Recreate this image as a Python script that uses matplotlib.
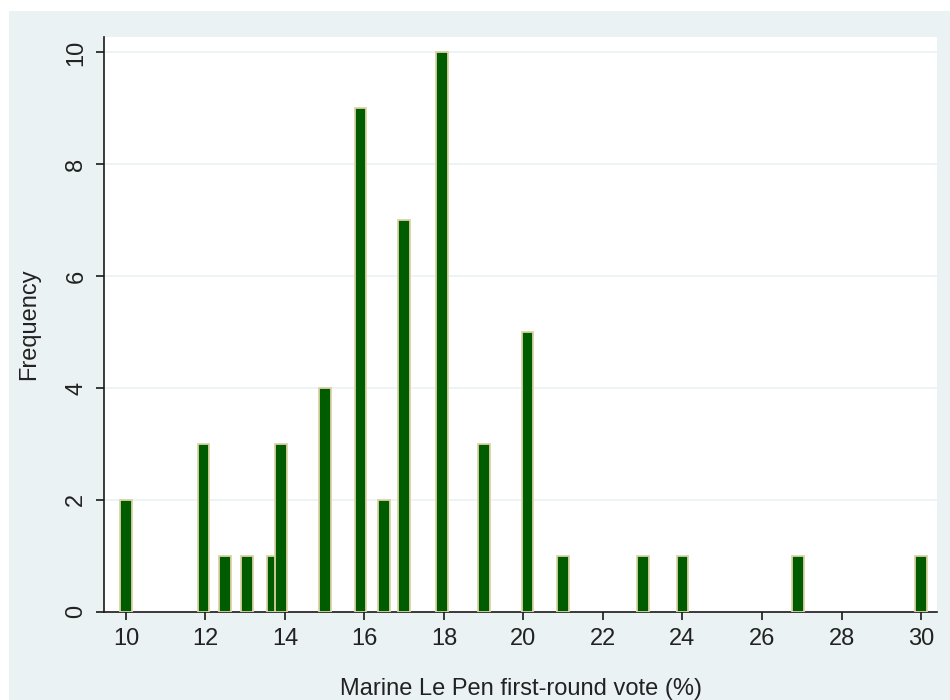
import matplotlib
matplotlib.use("Agg")
import matplotlib.pyplot as plt
from matplotlib.patches import Rectangle

# Data: vote share values (%) and their frequencies
vote_values = [10, 11.95, 12.5, 13.05, 13.7, 13.9, 15, 15.9, 16.5, 17, 17.95, 19, 20.1, 21, 23, 24, 26.9, 30]
frequencies = [2, 3, 1, 1, 1, 3, 4, 9, 2, 7, 10, 3, 5, 1, 1, 1, 1, 1]
x_ticks = [10, 12, 14, 16, 18, 20, 22, 24, 26, 28, 30]
y_ticks = [0, 2, 4, 6, 8, 10]

plt.rcParams['font.family'] = ['Liberation Sans', 'DejaVu Sans']

W, H = 950, 700
fig = plt.figure(figsize=(9.5, 7), dpi=100, facecolor='white')
bg = Rectangle((9 / W, 0), 1 - 9 / W, 1 - 11 / H, transform=fig.transFigure,
               facecolor='#EAF2F3', edgecolor='none', zorder=-10)
fig.patches.append(bg)

ax = fig.add_axes([104 / W, 1 - 611.7 / H, (937.3 - 104) / W, (611.7 - 37.3) / H])
ax.set_zorder(5)
ax.set_facecolor('white')

ax.bar(vote_values, frequencies, width=0.3, color='#005C00', edgecolor='#DCD3A6',
       linewidth=1.3, zorder=3)

ax.set_xlim(9.447, 30.41)
ax.set_ylim(0, 10.27)
ax.set_xticks(x_ticks)
ax.set_yticks(y_ticks)
ax.set_yticklabels([str(v) for v in y_ticks], rotation=90, va='center')

for y in y_ticks[1:]:
    ax.axhline(y, color='#EAF2F3', linewidth=1.2, zorder=1)

for s in ['top', 'right']:
    ax.spines[s].set_visible(False)
for s in ['left', 'bottom']:
    ax.spines[s].set_color('#1a1a1a')
    ax.spines[s].set_linewidth(1.2)

ax.tick_params(axis='both', direction='out', length=6, width=1.2, color='#1a1a1a',
               labelsize=17, labelcolor='#222222', pad=6)

ax.set_xlabel('Marine Le Pen first-round vote (%)', fontsize=17, color='#222222', labelpad=20)
ax.set_ylabel('Frequency', fontsize=17, color='#222222', labelpad=18)

fig.savefig('out.png', dpi=100, facecolor=fig.get_facecolor())
